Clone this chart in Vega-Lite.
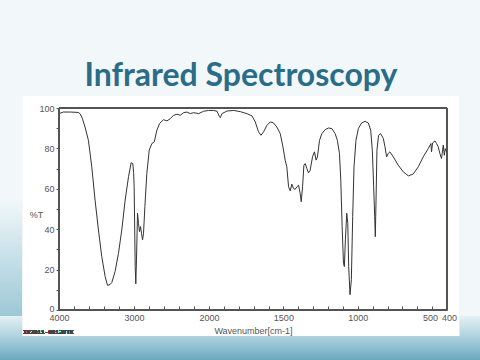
{
  "$schema": "https://vega.github.io/schema/vega-lite/v6.json",
  "width": 388,
  "height": 202,
  "autosize": {"type": "none"},
  "padding": {"left": 59, "top": 108, "right": 33, "bottom": 50},
  "background": "#f2f8fa",
  "title": {
    "text": "Infrared Spectroscopy",
    "font": "Lato",
    "fontWeight": "bold",
    "fontSize": 32,
    "color": "#2b6c88",
    "anchor": "middle",
    "frame": "group",
    "baseline": "alphabetic",
    "dx": -12,
    "offset": -22
  },
  "config": {
    "view": {"stroke": null},
    "axis": {
      "labelFont": "Liberation Sans",
      "labelFontSize": 9,
      "labelColor": "#555555",
      "titleFont": "Liberation Sans",
      "titleFontSize": 9,
      "titleFontWeight": "normal",
      "titleColor": "#555555",
      "grid": false,
      "domainColor": "#555555",
      "tickColor": "#555555",
      "labelOverlap": false,
      "labelFlush": false
    }
  },
  "resolve": {"axis": {"x": "independent", "y": "independent"}},
  "data": {
    "values": [
      {"wn": 4000, "t": 97.2}, {"wn": 3942, "t": 98.0}, {"wn": 3850, "t": 98.0}, {"wn": 3742, "t": 97.8},
      {"wn": 3720, "t": 97.2}, {"wn": 3690, "t": 95.0}, {"wn": 3653, "t": 90.6}, {"wn": 3608, "t": 84.0},
      {"wn": 3563, "t": 70.9}, {"wn": 3519, "t": 54.4}, {"wn": 3474, "t": 39.6}, {"wn": 3430, "t": 26.5},
      {"wn": 3385, "t": 16.6}, {"wn": 3354, "t": 12.2}, {"wn": 3320, "t": 12.6}, {"wn": 3296, "t": 13.6},
      {"wn": 3252, "t": 19.1}, {"wn": 3207, "t": 28.1}, {"wn": 3163, "t": 39.6}, {"wn": 3118, "t": 54.4},
      {"wn": 3073, "t": 66.0}, {"wn": 3038, "t": 72.9}, {"wn": 3016, "t": 72.5}, {"wn": 3005, "t": 68.0},
      {"wn": 2998, "t": 61.0}, {"wn": 2984, "t": 21.5}, {"wn": 2976, "t": 13.0}, {"wn": 2967, "t": 24.8},
      {"wn": 2953, "t": 47.9}, {"wn": 2940, "t": 42.9}, {"wn": 2927, "t": 38.8}, {"wn": 2913, "t": 41.3},
      {"wn": 2900, "t": 38.0}, {"wn": 2886, "t": 34.7}, {"wn": 2873, "t": 38.0}, {"wn": 2855, "t": 51.2},
      {"wn": 2829, "t": 67.6}, {"wn": 2797, "t": 79.1}, {"wn": 2762, "t": 82.4}, {"wn": 2730, "t": 83.2},
      {"wn": 2695, "t": 89.0}, {"wn": 2659, "t": 92.3}, {"wn": 2606, "t": 94.2}, {"wn": 2561, "t": 93.6},
      {"wn": 2517, "t": 94.7}, {"wn": 2472, "t": 96.4}, {"wn": 2428, "t": 96.9}, {"wn": 2383, "t": 96.4},
      {"wn": 2339, "t": 97.7}, {"wn": 2294, "t": 98.0}, {"wn": 2249, "t": 97.2}, {"wn": 2205, "t": 97.7},
      {"wn": 2138, "t": 97.2}, {"wn": 2071, "t": 98.4}, {"wn": 2004, "t": 98.8}, {"wn": 1969, "t": 98.8},
      {"wn": 1946, "t": 98.4}, {"wn": 1931, "t": 95.9}, {"wn": 1924, "t": 95.2}, {"wn": 1913, "t": 97.2},
      {"wn": 1879, "t": 98.5}, {"wn": 1834, "t": 98.8}, {"wn": 1790, "t": 98.2}, {"wn": 1745, "t": 97.2},
      {"wn": 1711, "t": 96.1}, {"wn": 1689, "t": 93.1}, {"wn": 1667, "t": 88.2}, {"wn": 1651, "t": 86.5},
      {"wn": 1633, "t": 88.2}, {"wn": 1611, "t": 91.4}, {"wn": 1588, "t": 93.1}, {"wn": 1566, "t": 92.6},
      {"wn": 1544, "t": 90.6}, {"wn": 1521, "t": 87.3}, {"wn": 1503, "t": 80.8}, {"wn": 1488, "t": 74.2},
      {"wn": 1477, "t": 70.9}, {"wn": 1465, "t": 61.0}, {"wn": 1454, "t": 59.0}, {"wn": 1443, "t": 62.3},
      {"wn": 1432, "t": 60.2}, {"wn": 1421, "t": 59.7}, {"wn": 1409, "t": 61.0}, {"wn": 1398, "t": 61.8},
      {"wn": 1387, "t": 57.7}, {"wn": 1380, "t": 53.6}, {"wn": 1371, "t": 61.0}, {"wn": 1362, "t": 71.7},
      {"wn": 1353, "t": 72.5}, {"wn": 1342, "t": 70.0}, {"wn": 1331, "t": 67.9}, {"wn": 1320, "t": 69.2},
      {"wn": 1304, "t": 75.8}, {"wn": 1291, "t": 78.3}, {"wn": 1280, "t": 74.2}, {"wn": 1271, "t": 75.8},
      {"wn": 1257, "t": 84.0}, {"wn": 1241, "t": 87.3}, {"wn": 1219, "t": 89.3}, {"wn": 1197, "t": 90.1},
      {"wn": 1174, "t": 89.8}, {"wn": 1152, "t": 87.3}, {"wn": 1137, "t": 84.0}, {"wn": 1123, "t": 77.5},
      {"wn": 1114, "t": 64.3}, {"wn": 1105, "t": 41.3}, {"wn": 1096, "t": 23.2}, {"wn": 1090, "t": 21.5},
      {"wn": 1083, "t": 34.7}, {"wn": 1074, "t": 47.9}, {"wn": 1067, "t": 42.9}, {"wn": 1061, "t": 21.5},
      {"wn": 1052, "t": 7.6}, {"wn": 1043, "t": 15.0}, {"wn": 1034, "t": 46.2}, {"wn": 1025, "t": 70.9},
      {"wn": 1012, "t": 84.0}, {"wn": 996, "t": 89.8}, {"wn": 974, "t": 92.6}, {"wn": 951, "t": 93.4},
      {"wn": 929, "t": 92.6}, {"wn": 913, "t": 89.0}, {"wn": 902, "t": 79.1}, {"wn": 893, "t": 61.0},
      {"wn": 886, "t": 46.2}, {"wn": 882, "t": 36.3}, {"wn": 877, "t": 54.4}, {"wn": 871, "t": 79.1},
      {"wn": 860, "t": 86.5}, {"wn": 846, "t": 87.3}, {"wn": 828, "t": 84.9}, {"wn": 817, "t": 80.8},
      {"wn": 806, "t": 75.8}, {"wn": 795, "t": 77.5}, {"wn": 784, "t": 78.3}, {"wn": 761, "t": 75.8},
      {"wn": 728, "t": 71.7}, {"wn": 694, "t": 68.4}, {"wn": 660, "t": 66.4}, {"wn": 627, "t": 67.3},
      {"wn": 593, "t": 70.9}, {"wn": 560, "t": 75.8}, {"wn": 526, "t": 79.9}, {"wn": 508, "t": 82.4},
      {"wn": 504, "t": 78.3}, {"wn": 497, "t": 82.7}, {"wn": 481, "t": 83.7}, {"wn": 470, "t": 82.4},
      {"wn": 459, "t": 80.8}, {"wn": 448, "t": 77.5}, {"wn": 437, "t": 75.0}, {"wn": 425, "t": 81.6},
      {"wn": 418, "t": 76.6}, {"wn": 412, "t": 79.9}, {"wn": 403, "t": 78.3}
    ]
  },
  "layer": [
    {
      "mark": {"type": "rect", "clip": false, "color": {"gradient": "linear", "x1": 0, "y1": 0, "x2": 0, "y2": 1, "stops": [{"offset": 0, "color": "#e4f1f5"}, {"offset": 0.5, "color": "#a9d0dd"}, {"offset": 1, "color": "#6aa7bd"}]}},
      "encoding": {
        "x": {"datum": 4790, "type": "quantitative", "axis": null},
        "x2": {"datum": 179},
        "y": {"datum": -3, "type": "quantitative", "axis": null},
        "y2": {"datum": -25}
      }
    },
    {
      "mark": {"type": "rect", "clip": false, "color": {"gradient": "linear", "x1": 0, "y1": 0, "x2": 0, "y2": 1, "stops": [{"offset": 0, "color": "#f2f8fa"}, {"offset": 1, "color": "#9cc8d6"}]}},
      "encoding": {
        "x": {"datum": 4790, "type": "quantitative", "axis": null},
        "x2": {"datum": 4481},
        "y": {"datum": 55, "type": "quantitative", "axis": null},
        "y2": {"datum": -3}
      }
    },
    {
      "mark": {"type": "rect", "clip": false, "color": "#ffffff"},
      "encoding": {
        "x": {"datum": 4481, "type": "quantitative", "axis": null},
        "x2": {"datum": 319},
        "y": {"datum": 106, "type": "quantitative", "axis": null},
        "y2": {"datum": -12.7}
      }
    },
    {
      "mark": {"type": "rect", "clip": false, "fill": null, "filled": false, "stroke": "#555555", "strokeWidth": 1},
      "encoding": {
        "x": {"datum": 4000, "type": "quantitative", "axis": null},
        "x2": {"datum": 400},
        "y": {"datum": 100, "type": "quantitative", "axis": null},
        "y2": {"datum": 0}
      }
    },
    {
      "mark": {"type": "line", "color": "#333333", "strokeWidth": 1, "clip": false},
      "encoding": {
        "x": {
          "field": "wn",
          "type": "quantitative",
          "scale": {"domain": [4000, 2000, 400], "range": [0, 150, 388], "zero": false, "nice": false},
          "axis": {
            "orient": "bottom",
            "zindex": 5,
            "title": "Wavenumber[cm-1]",
            "values": [4000, 3800, 3600, 3400, 3200, 3000, 2800, 2600, 2400, 2200, 2000, 1900, 1800, 1700, 1600, 1500, 1400, 1300, 1200, 1100, 1000, 900, 800, 700, 600, 500, 400],
            "labelExpr": "indexof([4000, 3000, 2000, 1500, 1000, 500, 400], datum.value) >= 0 ? datum.label : ''",
            "labelOffset": {"condition": [{"test": "datum.value == 400", "value": 2}, {"test": "datum.value == 500", "value": -2}], "value": 0},
            "format": "d",
            "tickSize": -4,
            "labelPadding": 7,
            "titleY": 20,
            "titleBaseline": "middle"
          }
        },
        "y": {
          "field": "t",
          "type": "quantitative",
          "scale": {"domain": [0, 100], "zero": false, "nice": false},
          "axis": {
            "orient": "left",
            "zindex": 5,
            "title": "%T",
            "values": [0, 10, 20, 30, 40, 50, 60, 70, 80, 90, 100],
            "labelExpr": "datum.value % 20 == 0 ? datum.label : ''",
            "labelOffset": {"condition": {"test": "datum.value == 0", "value": -2}, "value": 0},
            "tickSize": 3,
            "labelPadding": 2,
            "titleAngle": 0,
            "titleX": -23,
            "titleY": 106,
            "titleAlign": "center",
            "titleBaseline": "middle"
          }
        }
      }
    },
    {
      "mark": {"type": "text", "clip": false, "align": "left", "baseline": "middle", "fontSize": 6, "font": "Liberation Mono", "color": "#444444", "text": "IR2011-08120TK"},
      "encoding": {
        "x": {"datum": 4481, "type": "quantitative", "axis": null},
        "y": {"datum": -11, "type": "quantitative", "axis": null}
      }
    }
  ]
}
